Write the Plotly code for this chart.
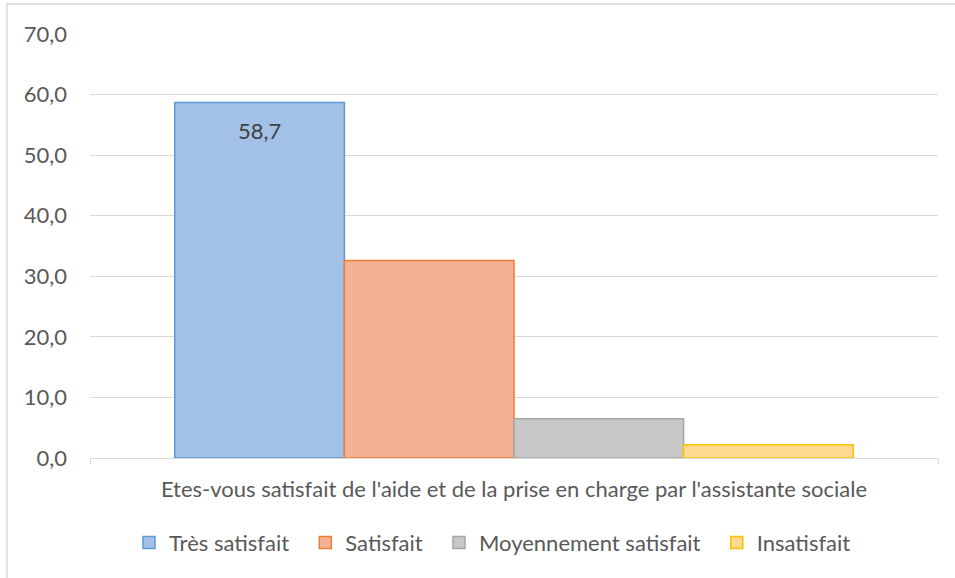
import plotly.graph_objects as go

question = ["Etes-vous satisfait de l'aide et de la prise en charge par l'assistante sociale"]
series_names = ["Très satisfait", "Satisfait", "Moyennement satisfait", "Insatisfait"]
series_values = [58.7, 32.6, 6.5, 2.2]
labelled = [True, False, False, False]

fills = ["#A3C1E6", "#F5B194", "#C8C8C8", "#FDD991"]
borders = ["#5B9BD5", "#ED7D31", "#A5A5A5", "#FFC000"]

FONT = "Lato"
GREY = "#595959"
SIZE = 22
PAD = "\u00a0\u00a0"  # espace supplémentaire entre les entrées de légende

fig = go.Figure()

for i, (name, val, fc, bc) in enumerate(zip(series_names, series_values, fills, borders)):
    fig.add_trace(go.Bar(
        x=question,
        y=[val],
        name=name + (PAD if i < len(series_names) - 1 else ""),
        marker=dict(color=fc, line=dict(color=bc, width=1.5)),
    ))

# étiquette de données de la première barre (centre de la barre : -1.5 largeur de barre)
bar_px = 848 * 0.8 / len(series_names)
for i, (val, lab) in enumerate(zip(series_values, labelled)):
    if lab:
        fig.add_annotation(
            x=question[0], y=val,
            xshift=(i - 1.5) * bar_px, yshift=-28,
            text=f"{val:.1f}".replace(".", ","),
            showarrow=False, yanchor="middle",
            font=dict(family=FONT, size=SIZE, color="#404040"),
        )

fig.update_xaxes(
    showgrid=False,
    showline=True,
    linecolor="#D9D9D9",
    linewidth=1,
    ticks="outside",
    tickson="boundaries",
    ticklen=5,
    tickcolor="#D9D9D9",
    tickfont=dict(family=FONT, size=SIZE, color=GREY),
    ticklabelstandoff=12,
)

fig.update_yaxes(
    range=[0, 70],
    dtick=10,
    tickformat=".1f",
    gridcolor="#D9D9D9",
    gridwidth=1,
    zeroline=False,
    showline=False,
    tickfont=dict(family=FONT, size=SIZE, color=GREY),
    ticklabelstandoff=22,
)

# cadre du graphique (coin haut gauche visible uniquement)
fig.add_shape(
    type="rect", xref="paper", yref="paper",
    x0=-83 / 848, x1=1.1, y0=-0.4, y1=1 + 30 / 424,
    line=dict(color="#D9D9D9", width=1.5),
    fillcolor="rgba(0,0,0,0)",
    layer="below",
)

fig.update_layout(
    width=955,
    height=578,
    margin=dict(l=90, r=17, t=34, b=120),
    barmode="group",
    bargap=0.2,
    bargroupgap=0,
    separators=",.",
    plot_bgcolor="white",
    paper_bgcolor="white",
    font=dict(family=FONT, size=SIZE, color=GREY),
    showlegend=True,
    legend=dict(
        orientation="h",
        x=(129 - 90) / 848, xanchor="left",
        y=-0.2, yanchor="middle",
        font=dict(family=FONT, size=SIZE, color=GREY),
        itemwidth=30,
    ),
    hovermode=False,
)

fig.write_html(
    "out.html",
    config={"displayModeBar": False},
    post_script="document.body.style.margin='0';",
)
